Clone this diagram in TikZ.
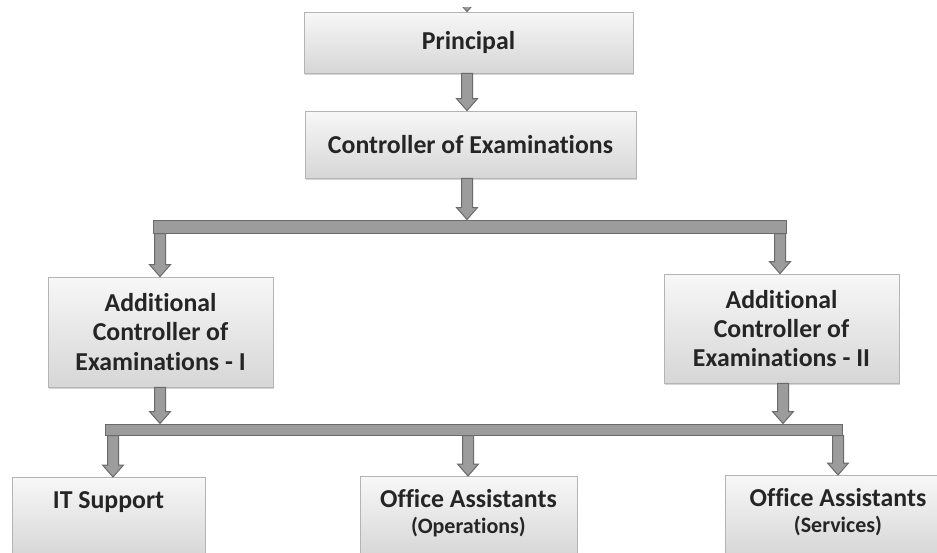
\documentclass[tikz,border=0pt]{standalone}
\usepackage{fontspec}
\setmainfont[Ligatures=NoCommon]{Carlito}
\usetikzlibrary{calc,shadows}

\definecolor{arrfill}{HTML}{9C9C9C}
\definecolor{arredge}{HTML}{6A6A6A}
\definecolor{boxedge}{HTML}{B4B4B4}
\definecolor{txt}{HTML}{252525}

\tikzset{
  box/.style={rectangle, draw=boxedge, line width=0.4pt, top color=gray!6, bottom color=gray!32,
    drop shadow={shadow xshift=0.7pt, shadow yshift=-0.9pt, fill=gray!55, opacity=0.6},
    text=txt, font=\fontsize{12.9}{14.7}\selectfont\bfseries, align=center, inner sep=0pt},
  leaf/.style={box, text height=15.5pt, text depth=24.5pt},
  leaftwo/.style={box, text height=28.5pt, text depth=12pt},
  bar/.style={rectangle, draw=arredge, fill=arrfill, line width=0.5pt, inner sep=0pt},
  blkarr/.style={draw=arredge, fill=arrfill, line width=0.5pt, line join=miter}
}

% block arrow: x position, from node, to node
\newcommand{\blkarrow}[3]{%
  \draw[blkarr] let \p0=(#1,0), \p1=(#2.south), \p2=(#3.north) in
    (\x0-2.75pt,\y1) -- (\x0+2.75pt,\y1) -- (\x0+2.75pt,\y2+6pt) -- (\x0+5.25pt,\y2+6pt)
    -- (\x0,\y2) -- (\x0-5.25pt,\y2+6pt) -- (\x0-2.75pt,\y2+6pt) -- cycle;}

\newcommand{\subline}{\fontsize{11}{13}\selectfont}

\begin{document}
\begin{tikzpicture}[x=0.5pt, y=-0.5pt]
  \useasboundingbox (0,0) rectangle (937,552);
  \fill[white] (0,0) rectangle (937,552);
  \clip (0,0) rectangle (937,552);

  \node (top) at (467,-40) {};
  \node[box, minimum width=164.5pt, minimum height=30.5pt] (principal) at (468.5,42.5) {Principal};
  \node[box, minimum width=165.5pt, minimum height=33.5pt] (controller) at (470.5,144.5) {Controller of Examinations};
  \node[bar, minimum width=316.5pt, minimum height=6.5pt] (bar1) at (469.5,226.5) {};
  \node[box, minimum width=112.5pt, minimum height=55pt] (ace1) at (160.5,332) {Additional\\Controller of\\Examinations - I};
  \node[box, minimum width=117.5pt, minimum height=54.5pt] (ace2) at (781.5,328.5) {Additional\\Controller of\\Examinations - II};
  \node[bar, minimum width=368.5pt, minimum height=5.5pt] (bar2) at (473.5,429.5) {};
  \node[leaf, minimum width=96.5pt, anchor=north] (itsup) at (108.5,477) {IT Support};
  \node[leaftwo, minimum width=108.5pt, anchor=north] (ops) at (468.5,476) {Office Assistants\\[-1.5pt]{\subline(Operations)}};
  \node[leaftwo, minimum width=113pt, anchor=north] (srv) at (838,475) {Office Assistants\\[-1.5pt]{\subline(Services)}};

  \begin{scope}
    \clip (0,7) rectangle (937,552);
    \blkarrow{467}{top}{principal}
  \end{scope}
  \blkarrow{467}{principal}{controller}
  \blkarrow{467}{controller}{bar1}
  \blkarrow{160}{bar1}{ace1}
  \blkarrow{780}{bar1}{ace2}
  \blkarrow{160}{ace1}{bar2}
  \blkarrow{783}{ace2}{bar2}
  \blkarrow{113}{bar2}{itsup}
  \blkarrow{468}{bar2}{ops}
  \blkarrow{838}{bar2}{srv}
\end{tikzpicture}
\end{document}
